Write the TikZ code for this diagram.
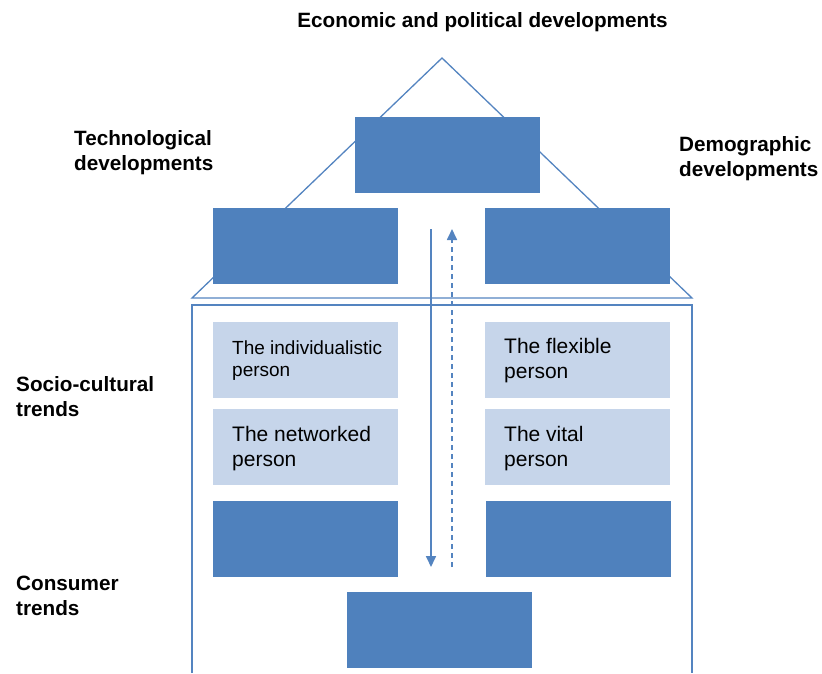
\documentclass[tikz,border=0pt]{standalone}
\usepackage{fontspec}
\setmainfont{Liberation Sans}
\usetikzlibrary{arrows.meta}
\definecolor{boxDark}{RGB}{79,129,189}
\definecolor{boxLight}{RGB}{198,213,234}
\definecolor{lineBlue}{RGB}{84,132,192}

\begin{document}
\begin{tikzpicture}[
  x=1pt,y=-1pt,
  dark/.style={fill=boxDark,anchor=north west,inner sep=0pt,
               minimum width=185pt,minimum height=76pt},
  light/.style={fill=boxLight,anchor=north west,inner sep=0pt,
                minimum width=185pt,minimum height=76pt},
  heading/.style={font=\fontsize{20.7}{25.5}\selectfont\bfseries,
                  anchor=base west,align=left,inner sep=0pt},
  person/.style={font=\fontsize{21}{25}\selectfont,
                 anchor=base west,align=left,inner sep=0pt},
  frame/.style={draw=lineBlue,line width=1.3pt},
  flow/.style={draw=lineBlue,line width=1.7pt,
               -{Triangle[length=11pt,width=10pt]}}
]
\useasboundingbox (0,0) rectangle (822,673);

% ==========  Roof and walls  ==========
\coordinate (apex) at (442,58);
\coordinate (roofL) at (192,298);
\coordinate (roofR) at (692,298);
\coordinate (wallTL) at (192,305);
\coordinate (wallTR) at (692,305);
\coordinate (wallBL) at (192,673);
\coordinate (wallBR) at (692,673);
\draw[frame] (roofL) -- (apex) -- (roofR) -- cycle;
\draw[frame] (wallBL) -- (wallTL) -- (wallTR) -- (wallBR);

% ==========  Dark boxes  ==========
\node[dark] (econ) at (355,117) {};
\node[dark] (tech) at (213,208) {};
\node[dark] (demo) at (485,208) {};
\node[dark] (lowL) at (213,501) {};
\node[dark] (lowR) at (486,501) {};
\node[dark] (cons) at (347,592) {};

% ==========  Persons  ==========
% (base anchor sits on the last line)
\node[light] (indiv) at (213,322) {};
\node[light] (netw)  at (213,409) {};
\node[light] (flex)  at (485,322) {};
\node[light] (vital) at (485,409) {};
\node[person,font=\fontsize{19}{22}\selectfont] (indivtxt) at (232,376)
  {The individualistic\\person};
\node[person] (netwtxt)  at (232,466) {The networked\\person};
\node[person] (flextxt)  at (504,378) {The flexible\\person};
\node[person] (vitaltxt) at (504,466) {The vital\\person};

% ==========  Headings  ==========
\node[heading,anchor=base] (econtxt) at (482.5,27) {Economic and political developments};
\node[heading] (techtxt) at (74,170.5) {Technological\\developments};
\node[heading] (demotxt) at (679,176.5) {Demographic\\developments};
\node[heading] (socitxt) at (16,416.5) {Socio-cultural\\trends};
\node[heading] (constxt) at (16,615.5) {Consumer\\trends};

% ==========  Arrows  ==========
\coordinate (downS) at (431,229);
\coordinate (downE) at (431,567);
\coordinate (upS) at (452,567);
\coordinate (upE) at (452,229);
\draw[flow] (downS) -- (downE);
\draw[flow,dash pattern=on 5pt off 4pt] (upS) -- (upE);

\end{tikzpicture}
\end{document}
